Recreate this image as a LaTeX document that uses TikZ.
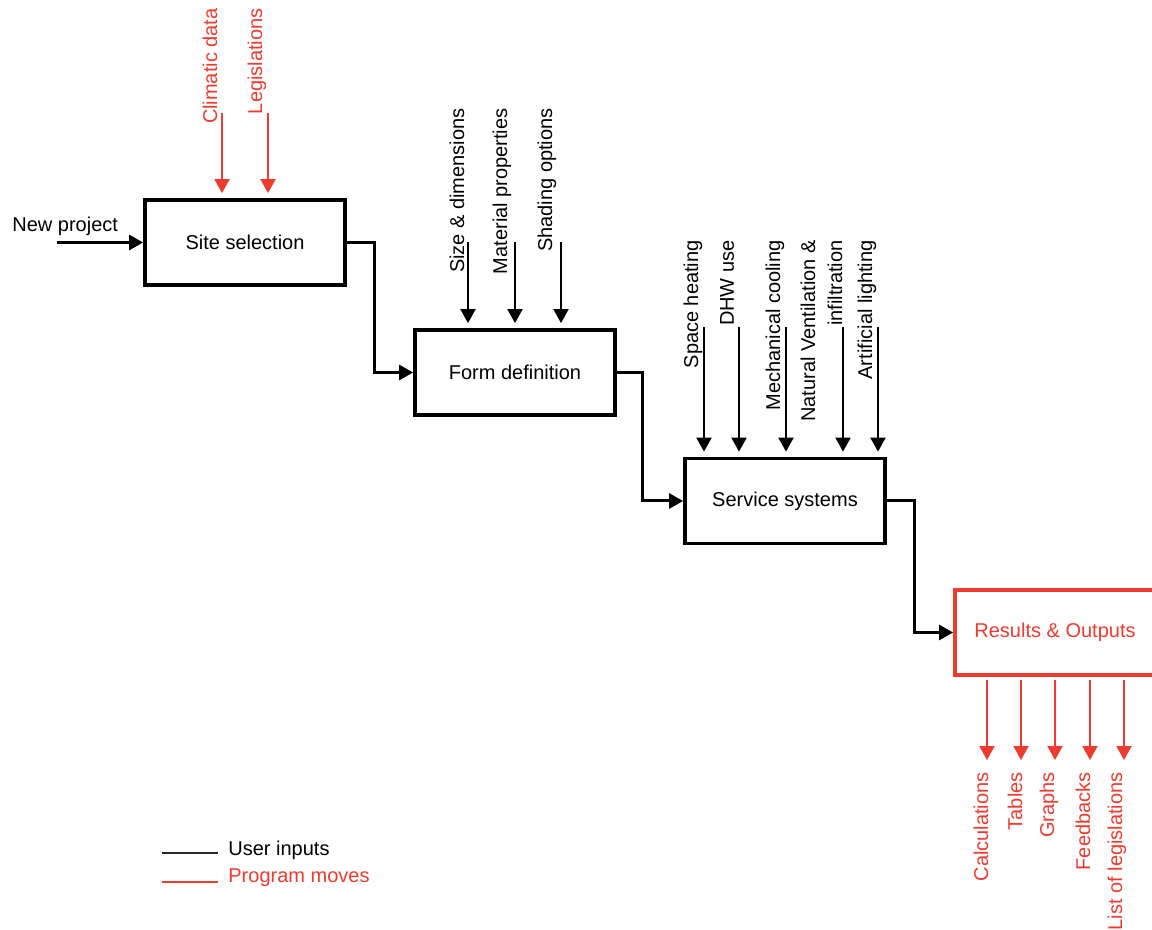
\documentclass[tikz,border=0pt]{standalone}
\usepackage{fontspec}
\setmainfont{Liberation Sans}
\usetikzlibrary{arrows.meta}
\definecolor{pred}{HTML}{EE3B2F}
\begin{document}
\begin{tikzpicture}[x=0.5pt,y=-0.5pt, font=\fontsize{10}{13.5}\selectfont,
  box/.style={draw, line width=1.9pt, minimum width=100pt, minimum height=42.5pt, inner sep=0},
  conn/.style={line width=1.5pt, -{Triangle[length=7pt,width=7.5pt]}},
  inarr/.style={line width=1pt, -{Triangle[length=7pt,width=7.5pt]}, shorten >=2.5pt},
  outarr/.style={line width=1pt, pred, -{Triangle[length=7pt,width=7.5pt]}, shorten <=1.5pt},
  lbl/.style={rotate=90, anchor=east, inner sep=0},
  legline/.style={line width=1pt},
]
\clip (0,0) rectangle (1152,930);
\fill[white] (0,0) rectangle (1152,930);

% boxes
\node[box] (site) at (245,242.5) {Site selection};
\node[box] (form) at (515,372.5) {Form definition};
\node[box] (serv) at (785,501) {Service systems};
\node[box, draw=pred, text=pred] (res) at (1055,632.5) {Results \& Outputs};

% new project
\node[anchor=west, inner sep=0] (np) at (12,226) {New project};
\coordinate (npstart) at (57,242.5);
\draw[conn] (npstart) -- (site.west);

% main flow
\draw[conn] (site.east) -- ++(28,0) |- (form.west);
\draw[conn] (form.east) -- ++(26,0) |- (serv.west);
\draw[conn] (serv.east) -- ++(28,0) |- (res.west);

% site inputs
\node[lbl, text=pred] (cd) at (210,8) {Climatic data};
\node[lbl, text=pred] (lg) at (257,8) {Legislations};
\coordinate (cda) at (222,113);
\coordinate (lga) at (268,113);
\draw[inarr, pred] (cda) -- (cda |- site.north);
\draw[inarr, pred] (lga) -- (lga |- site.north);

% form inputs
\node[lbl] (sd) at (457,108) {Size \& dimensions};
\node[lbl] (mp) at (502,108) {Material properties};
\node[lbl] (so) at (547,108) {Shading options};
\coordinate (sda) at (468,242);
\coordinate (mpa) at (515,242);
\coordinate (soa) at (561,242);
\draw[inarr] (sda) -- (sda |- form.north);
\draw[inarr] (mpa) -- (mpa |- form.north);
\draw[inarr] (soa) -- (soa |- form.north);

% service inputs
\node[lbl] (sh) at (693,240) {Space heating};
\node[lbl] (dhw) at (727,240) {DHW use};
\node[lbl] (mc) at (775,240) {Mechanical cooling};
\node[lbl, align=right] (nv) at (821.5,240) {Natural Ventilation \&\\infiltration};
\node[lbl] (al) at (867,240) {Artificial lighting};
\coordinate (sha) at (704,327);
\coordinate (dhwa) at (739,327);
\coordinate (mca) at (786,327);
\coordinate (nva) at (843,327);
\coordinate (ala) at (878,327);
\draw[inarr] (sha) -- (sha |- serv.north);
\draw[inarr] (dhwa) -- (dhwa |- serv.north);
\draw[inarr] (mca) -- (mca |- serv.north);
\draw[inarr] (nva) -- (nva |- serv.north);
\draw[inarr] (ala) -- (ala |- serv.north);

% outputs
\coordinate (o1) at (987,760);
\coordinate (o2) at (1021,760);
\coordinate (o3) at (1055,760);
\coordinate (o4) at (1090,760);
\coordinate (o5) at (1124,760);
\draw[outarr] (o1 |- res.south) -- (o1);
\draw[outarr] (o2 |- res.south) -- (o2);
\draw[outarr] (o3 |- res.south) -- (o3);
\draw[outarr] (o4 |- res.south) -- (o4);
\draw[outarr] (o5 |- res.south) -- (o5);
\node[lbl, text=pred] (calc) at (981,772) {Calculations};
\node[lbl, text=pred] (tab) at (1015,772) {Tables};
\node[lbl, text=pred] (gra) at (1049,772) {Graphs};
\node[lbl, text=pred] (fb) at (1083,772) {Feedbacks};
\node[lbl, text=pred] (lol) at (1117,772) {List of legislations};

% legend
\coordinate (l1a) at (162,853);
\coordinate (l1b) at (218,853);
\coordinate (l2a) at (162,882);
\coordinate (l2b) at (218,882);
\draw[legline, black!85] (l1a) -- (l1b);
\draw[legline, pred] (l2a) -- (l2b);
\node[anchor=west, inner sep=0] (ui) at (228,850) {User inputs};
\node[anchor=west, inner sep=0, text=pred] (pm) at (228,878) {Program moves};
\end{tikzpicture}
\end{document}
